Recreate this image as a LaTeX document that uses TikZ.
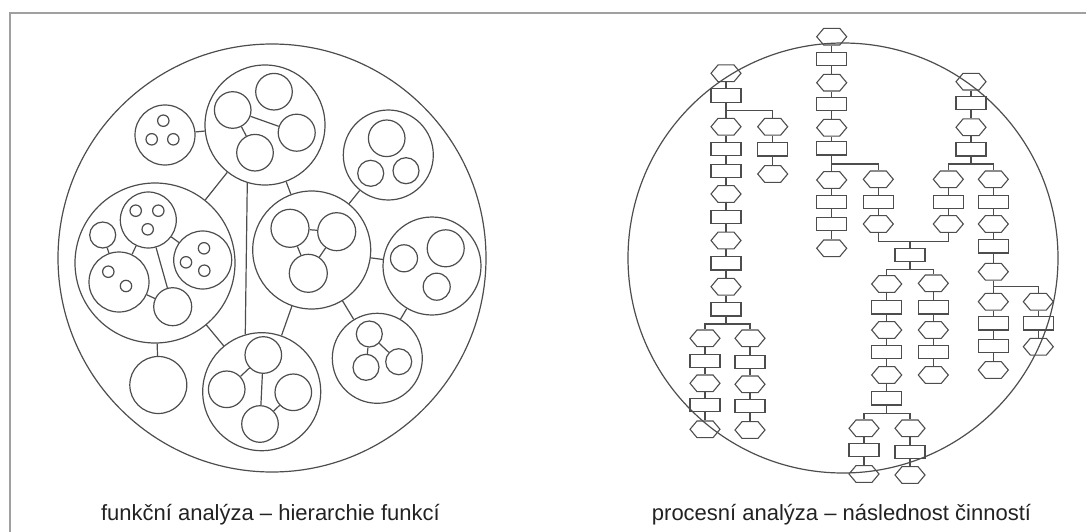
\documentclass[tikz,border=0pt]{standalone}
\usepackage{fontspec}
\setmainfont{Liberation Sans}
\usetikzlibrary{shapes.symbols}
\definecolor{ink}{HTML}{4D4D4D}
\definecolor{framegray}{HTML}{A0A0A0}
\definecolor{txt}{HTML}{222222}
\begin{document}
\begin{tikzpicture}[x=1pt,y=-1pt,
  ln/.style={draw=ink,line width=1.2pt},
  ring/.style={circle,draw=ink,line width=1.2pt,inner sep=0pt,minimum size=#1},
  hexa/.style={signal,signal to=east and west,signal pointer angle=100,draw=ink,line width=1.1pt,inner sep=0pt,minimum width=30pt,minimum height=16.7pt},
  boxr/.style={rectangle,draw=ink,line width=1.1pt,inner sep=0pt,minimum width=30pt,minimum height=13.3pt},
  captext/.style={anchor=base,text=txt,font=\fontsize{22}{26}\selectfont}]
\useasboundingbox (0,0) rectangle (1086,532);
% outer frame (runs past the page edges on the right and bottom)
\begin{scope}
\clip (0,0) rectangle (1086,532);
\draw[framegray,line width=2pt] (10,545) -- (10,13) -- (1095,13);
\end{scope}

% ---------- function hierarchy ----------
\node[ring=428pt] (L) at (272,258) {};
% top group
\node[ring=120pt] (gt) at (265,125) {};
\node[ring=36.6pt] (gt1) at (274,91.7) {};
\node[ring=36.6pt] (gt2) at (232.7,110) {};
\node[ring=37pt] (gt3) at (296.7,132.7) {};
\node[ring=36.6pt] (gt4) at (255,152.7) {};
\draw[ln] (gt2) -- (gt3); \draw[ln] (gt2) -- (gt4);
% small group with three dots
\node[ring=60pt] (gs) at (165,135) {};
\node[ring=11.4pt] (gs1) at (163.3,120.7) {};
\node[ring=11.4pt] (gs2) at (151.7,139.3) {};
\node[ring=11.4pt] (gs3) at (173.3,139.3) {};
% left large group
\node[ring=160pt] (gl) at (155,263) {};
\node[ring=56pt] (gl1) at (148.3,220) {};
\node[ring=11.4pt] (gl1a) at (135.7,210.7) {};
\node[ring=11.4pt] (gl1b) at (158.3,210.7) {};
\node[ring=11.4pt] (gl1c) at (147.7,229.3) {};
\node[ring=26pt] (gl2) at (102.7,235) {};
\node[ring=60pt] (gl3) at (119,282) {};
\node[ring=11.4pt] (gl3a) at (108.3,271.7) {};
\node[ring=11.4pt] (gl3b) at (126,286) {};
\node[ring=58pt] (gl4) at (202.7,260) {};
\node[ring=11.4pt] (gl4a) at (204,248.3) {};
\node[ring=11.4pt] (gl4b) at (186,262.3) {};
\node[ring=11.4pt] (gl4c) at (204.3,270.7) {};
\node[ring=38pt] (gl5) at (172.7,306.7) {};
\draw[ln] (gl2) -- (gl3); \draw[ln] (gl1) -- (gl3); \draw[ln] (gl1) -- (gl5);
\draw[ln] (gl1) -- (gl4); \draw[ln] (gl3) -- (gl5);
% lone circle
\node[ring=57pt] (go) at (158.3,385) {};
% centre group
\node[ring=118pt] (gc) at (311.7,250) {};
\node[ring=38pt] (gc1) at (290,228.3) {};
\node[ring=38pt] (gc2) at (336.7,231.7) {};
\node[ring=38pt] (gc3) at (308.3,273.3) {};
\draw[ln] (gc1) -- (gc2); \draw[ln] (gc1) -- (gc3); \draw[ln] (gc2) -- (gc3);
% bottom centre group
\node[ring=118pt] (gb) at (261.7,391.7) {};
\node[ring=36.6pt] (gb1) at (263.3,355) {};
\node[ring=36.6pt] (gb2) at (226.7,389.3) {};
\node[ring=36.6pt] (gb3) at (293.3,392.3) {};
\node[ring=36.6pt] (gb4) at (260,424) {};
\draw[ln] (gb1) -- (gb4); \draw[ln] (gb2) -- (gb1); \draw[ln] (gb3) -- (gb4);
% upper right group
\node[ring=90pt] (gu) at (388.3,155) {};
\node[ring=36.6pt] (gu1) at (386.7,138.3) {};
\node[ring=26pt] (gu2) at (370.7,173.3) {};
\node[ring=26pt] (gu3) at (406,170.7) {};
% right group
\node[ring=98pt] (gr) at (432,266) {};
\node[ring=27pt] (gr1) at (404,258.3) {};
\node[ring=37pt] (gr2) at (445.7,248.3) {};
\node[ring=27pt] (gr3) at (436.7,286.7) {};
% lower right group
\node[ring=90pt] (gd) at (377.3,358.3) {};
\node[ring=26pt] (gd1) at (369.3,334) {};
\node[ring=26pt] (gd2) at (366,367.3) {};
\node[ring=26pt] (gd3) at (398.7,361.7) {};
\draw[ln] (gd1) -- (gd2); \draw[ln] (gd1) -- (gd3);
% links between groups
\draw[ln] (gs) -- (gt);
\draw[ln] (gt) -- (gl);
\draw[ln] (gt.253.5) -- (gb.106.4);
\draw[ln] (gt) -- (gc);
\draw[ln] (gl) -- (go);
\draw[ln] (gl) -- (gb);
\draw[ln] (gc) -- (gb);
\draw[ln] (gc) -- (gu);
\draw[ln] (gc) -- (gr);
\draw[ln] (gc) -- (gd);
\draw[ln] (gr) -- (gd);

% ---------- process sequence ----------
\node[ring=430pt] (R) at (843,258) {};
% column a
\node[hexa] (a1) at (726,73.3) {};
\node[boxr] (a2) at (726,95.5) {};
\node[hexa] (a3) at (726,126.7) {};
\node[boxr] (a4) at (726,148.7) {};
\node[boxr] (a5) at (726,171) {};
\node[hexa] (a6) at (726,194) {};
\node[boxr] (a7) at (726,216.7) {};
\node[hexa] (a8) at (726,240.5) {};
\node[boxr] (a9) at (726,263.3) {};
\node[hexa] (a10) at (726,286.7) {};
\node[boxr] (a11) at (726,309.3) {};
\coordinate (ja1) at (726,110.5);
\coordinate (ja2) at (726,324);
\node[hexa] (ab1) at (772.7,126.7) {};
\node[boxr] (ab2) at (772.7,149.3) {};
\node[hexa] (ab3) at (772.7,174) {};
\node[hexa] (al1) at (705,338.3) {};
\node[boxr] (al2) at (705,360.7) {};
\node[hexa] (al3) at (705,383.3) {};
\node[boxr] (al4) at (705,405) {};
\node[hexa] (al5) at (705,429.3) {};
\node[hexa] (ar1) at (750,338.3) {};
\node[boxr] (ar2) at (750,361.7) {};
\node[hexa] (ar3) at (750,384.3) {};
\node[boxr] (ar4) at (750,406) {};
\node[hexa] (ar5) at (750,430) {};
\draw[ln] (a1) -- (a2); \draw[ln] (a2) -- (ja1) -- (a3); \draw[ln] (ja1) -| (ab1);
\draw[ln] (a3) -- (a4); \draw[ln] (a4) -- (a5); \draw[ln] (a5) -- (a6);
\draw[ln] (a6) -- (a7); \draw[ln] (a7) -- (a8); \draw[ln] (a8) -- (a9);
\draw[ln] (a9) -- (a10); \draw[ln] (a10) -- (a11); \draw[ln] (a11) -- (ja2);
\draw[ln] (al1) |- (ja2) -| (ar1);
\draw[ln] (ab1) -- (ab2); \draw[ln] (ab2) -- (ab3);
\draw[ln] (al1) -- (al2); \draw[ln] (al2) -- (al3); \draw[ln] (al3) -- (al4); \draw[ln] (al4) -- (al5);
\draw[ln] (ar1) -- (ar2); \draw[ln] (ar2) -- (ar3); \draw[ln] (ar3) -- (ar4); \draw[ln] (ar4) -- (ar5);
% column b
\node[hexa] (b1) at (831.7,36.7) {};
\node[boxr] (b2) at (831.7,59.3) {};
\node[hexa] (b3) at (831.7,82.7) {};
\node[boxr] (b4) at (831.7,104.3) {};
\node[hexa] (b5) at (831.7,127.7) {};
\node[boxr] (b6) at (831.7,148.3) {};
\coordinate (jb) at (831.7,164);
\node[hexa] (b7) at (831.7,180) {};
\node[boxr] (b8) at (831.7,201.7) {};
\node[boxr] (b9) at (831.7,224) {};
\node[hexa] (b10) at (831.7,248.3) {};
\node[hexa] (bb1) at (878.3,179.3) {};
\node[boxr] (bb2) at (878.3,201.7) {};
\node[hexa] (bb3) at (878.3,224) {};
\draw[ln] (b1) -- (b2); \draw[ln] (b2) -- (b3); \draw[ln] (b3) -- (b4);
\draw[ln] (b4) -- (b5); \draw[ln] (b5) -- (b6); \draw[ln] (b6) -- (jb) -- (b7);
\draw[ln] (jb) -| (bb1);
\draw[ln] (b7) -- (b8); \draw[ln] (b8) -- (b9); \draw[ln] (b9) -- (b10);
\draw[ln] (bb1) -- (bb2); \draw[ln] (bb2) -- (bb3);
% column c
\node[hexa] (c1) at (971,81.7) {};
\node[boxr] (c2) at (971,103.3) {};
\node[hexa] (c3) at (971,127.3) {};
\node[boxr] (c4) at (971,149.3) {};
\coordinate (jc) at (971,164);
\node[hexa] (cl1) at (948.3,179.3) {};
\node[boxr] (cl2) at (948.3,201.7) {};
\node[hexa] (cl3) at (948.3,224) {};
\node[hexa] (cr1) at (993.3,179.3) {};
\node[boxr] (cr2) at (993.3,201.7) {};
\node[hexa] (cr3) at (993.3,224) {};
\node[boxr] (cr4) at (993.3,246.3) {};
\node[hexa] (cr5) at (993.3,271.7) {};
\coordinate (jcr) at (993.3,286.7);
\node[hexa] (cr6) at (993.3,301.7) {};
\node[boxr] (cr7) at (993.3,323.3) {};
\node[boxr] (cr8) at (993.3,346) {};
\node[hexa] (cr9) at (993.3,370) {};
\node[hexa] (ce1) at (1038.3,301.7) {};
\node[boxr] (ce2) at (1038.3,323.3) {};
\node[hexa] (ce3) at (1038.3,346.7) {};
\draw[ln] (c1) -- (c2); \draw[ln] (c2) -- (c3); \draw[ln] (c3) -- (c4); \draw[ln] (c4) -- (jc);
\draw[ln] (cl1) |- (jc) -| (cr1);
\draw[ln] (cl1) -- (cl2); \draw[ln] (cl2) -- (cl3);
\draw[ln] (cr1) -- (cr2); \draw[ln] (cr2) -- (cr3); \draw[ln] (cr3) -- (cr4); \draw[ln] (cr4) -- (cr5);
\draw[ln] (cr5) -- (jcr) -- (cr6); \draw[ln] (jcr) -| (ce1);
\draw[ln] (cr6) -- (cr7); \draw[ln] (cr7) -- (cr8); \draw[ln] (cr8) -- (cr9);
\draw[ln] (ce1) -- (ce2); \draw[ln] (ce2) -- (ce3);
% merge and column d
\coordinate (jd) at (910,241.7);
\node[boxr] (d0) at (910,255) {};
\coordinate (jd2) at (910,269.3);
\draw[ln] (bb3) |- (jd) -| (cl3);
\draw[ln] (jd) -- (d0); \draw[ln] (d0) -- (jd2);
\node[hexa] (dl1) at (886.7,284) {};
\node[boxr] (dl2) at (886.7,307.3) {};
\node[hexa] (dl3) at (886.7,330) {};
\node[boxr] (dl4) at (886.7,351.7) {};
\node[hexa] (dl5) at (886.7,375) {};
\node[boxr] (dl6) at (886.7,398.3) {};
\coordinate (jdl) at (886.7,413.3);
\node[hexa] (dr1) at (933.3,283.3) {};
\node[boxr] (dr2) at (933.3,307.3) {};
\node[hexa] (dr3) at (933.3,330) {};
\node[boxr] (dr4) at (933.3,351.7) {};
\node[hexa] (dr5) at (933.3,375) {};
\draw[ln] (dl1) |- (jd2) -| (dr1);
\draw[ln] (dl1) -- (dl2); \draw[ln] (dl2) -- (dl3); \draw[ln] (dl3) -- (dl4);
\draw[ln] (dl4) -- (dl5); \draw[ln] (dl5) -- (dl6); \draw[ln] (dl6) -- (jdl);
\draw[ln] (dr1) -- (dr2); \draw[ln] (dr2) -- (dr3); \draw[ln] (dr3) -- (dr4); \draw[ln] (dr4) -- (dr5);
\node[hexa] (el1) at (864,428.3) {};
\node[boxr] (el2) at (864,450) {};
\node[hexa] (el3) at (864,474) {};
\node[hexa] (er1) at (910,428.3) {};
\node[boxr] (er2) at (910,451.7) {};
\node[hexa] (er3) at (910,475) {};
\draw[ln] (el1) |- (jdl) -| (er1);
\draw[ln] (el1) -- (el2); \draw[ln] (el2) -- (el3);
\draw[ln] (er1) -- (er2); \draw[ln] (er2) -- (er3);

% captions
\node[captext] (capL) at (270.4,520) {funkční analýza – hierarchie funkcí};
\node[captext] (capR) at (841.5,520) {procesní analýza – následnost činností};
\end{tikzpicture}
\end{document}
